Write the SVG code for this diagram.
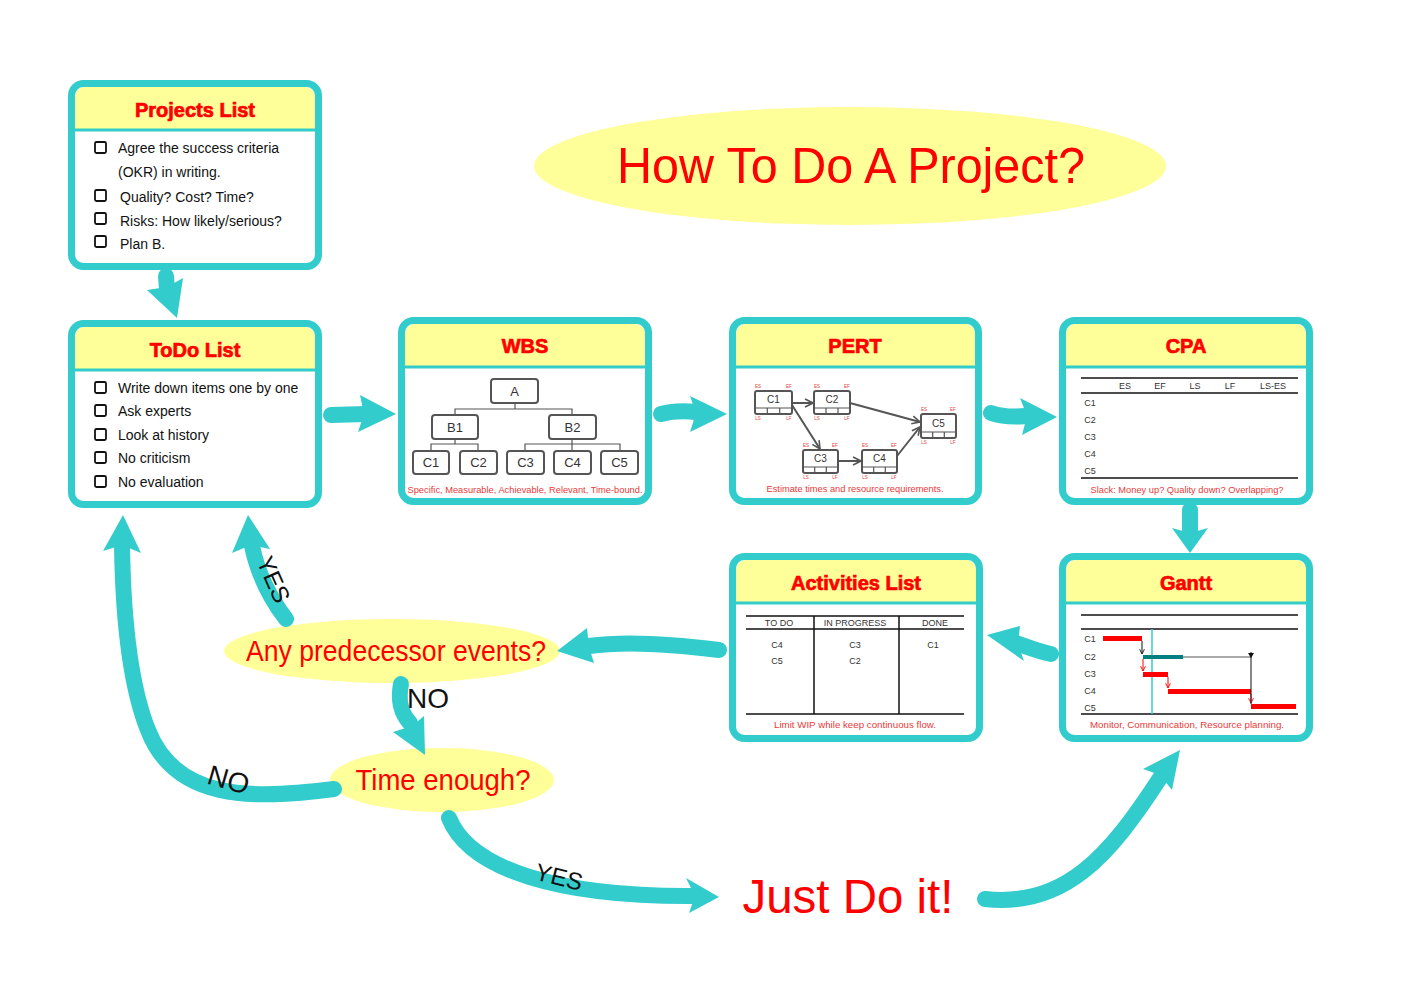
<svg xmlns="http://www.w3.org/2000/svg" width="1403" height="992" viewBox="0 0 1403 992">
<style>
.frame{fill:none;stroke:#33CCCC;stroke-width:7}
.bg{fill:#FFFFFF}
.hdr{fill:#FFFF99}
.hl{stroke:#33CCCC;stroke-width:3}
.title{font-family:"Liberation Sans",Arial,sans-serif;font-weight:bold;font-size:20px;fill:#FF0000;stroke:#FF0000;stroke-width:0.7;text-anchor:middle}
.body{font-family:"Liberation Sans",Arial,sans-serif;font-size:14px;fill:#111}
.cb{fill:none;stroke:#111;stroke-width:1.8}
.cap{font-family:"Liberation Sans",Arial,sans-serif;font-size:9px;fill:#E83A3A;text-anchor:middle}
.sm{font-family:"Liberation Sans",Arial,sans-serif;font-size:9px;fill:#333;text-anchor:middle}
.wb{fill:#fff;stroke:#555;stroke-width:2}
.wt{font-family:"Liberation Sans",Arial,sans-serif;font-size:13px;fill:#333;text-anchor:middle}
.wl{fill:none;stroke:#555;stroke-width:1.2}
.pb{fill:#fff;stroke:#555;stroke-width:2}
.pl{fill:none;stroke:#555;stroke-width:1.2}
.pt{font-family:"Liberation Sans",Arial,sans-serif;font-size:10px;fill:#333;text-anchor:middle}
.tiny{font-family:"Liberation Sans",Arial,sans-serif;font-size:4.5px;fill:#E83A3A;text-anchor:middle}
.pa{fill:none;stroke:#555;stroke-width:2}
.tl{stroke:#111;stroke-width:1.5}
.shaft{fill:none;stroke:#33CCCC;stroke-width:16;stroke-linecap:round}
.head{fill:#33CCCC}
.big{font-family:"Liberation Sans",Arial,sans-serif;fill:#FF0000;text-anchor:middle}
.lbl{font-family:"Liberation Sans",Arial,sans-serif;fill:#111;text-anchor:middle}
</style>
<defs>
<marker id="pm" viewBox="0 0 10 10" refX="9" refY="5" markerWidth="5" markerHeight="5" orient="auto"><path d="M1,1 L9,5 L1,9" fill="none" stroke="#555" stroke-width="1.6"/></marker>
<marker id="gk" viewBox="0 0 10 10" refX="9" refY="5" markerWidth="6" markerHeight="6" orient="auto"><path d="M1,1 L9,5 L1,9" fill="none" stroke="#111" stroke-width="1.5"/></marker>
<marker id="gr" viewBox="0 0 10 10" refX="9" refY="5" markerWidth="6" markerHeight="6" orient="auto"><path d="M1,1 L9,5 L1,9" fill="none" stroke="#FF0000" stroke-width="1.5"/></marker>
</defs>

<g id="title">
<ellipse cx="850" cy="166" rx="316" ry="59" fill="#FFFF99"/>
<text class="big" x="851" y="183" font-size="50" textLength="468" lengthAdjust="spacingAndGlyphs">How To Do A Project?</text>
</g>

<g id="projects-list">
<rect class="bg" x="71.5" y="83.5" width="247" height="183" rx="12"/>
<path class="hdr" d="M75 129 V97 A10 10 0 0 1 85 87 H305 A10 10 0 0 1 315 97 V129 Z"/>
<line class="hl" x1="72" y1="130" x2="318" y2="130"/>
<rect class="frame" x="71.5" y="83.5" width="247" height="183" rx="12"/>
<text class="title" x="195" y="117">Projects List</text>
<rect class="cb" x="95" y="142" width="11" height="11" rx="1.5"/>
<text class="body" x="118" y="153">Agree the success criteria</text>
<text class="body" x="118" y="177">(OKR) in writing.</text>
<rect class="cb" x="95" y="190" width="11" height="11" rx="1.5"/>
<text class="body" x="120" y="202">Quality? Cost? Time?</text>
<rect class="cb" x="95" y="213" width="11" height="11" rx="1.5"/>
<text class="body" x="120" y="226">Risks: How likely/serious?</text>
<rect class="cb" x="95" y="236" width="11" height="11" rx="1.5"/>
<text class="body" x="120" y="249">Plan B.</text>
</g>

<g id="todo-list">
<rect class="bg" x="71.5" y="323.5" width="247" height="181" rx="12"/>
<path class="hdr" d="M75 369 V337 A10 10 0 0 1 85 327 H305 A10 10 0 0 1 315 337 V369 Z"/>
<line class="hl" x1="72" y1="370" x2="318" y2="370"/>
<rect class="frame" x="71.5" y="323.5" width="247" height="181" rx="12"/>
<text class="title" x="195" y="357">ToDo List</text>
<rect class="cb" x="95" y="382" width="11" height="11" rx="1.5"/>
<text class="body" x="118" y="393">Write down items one by one</text>
<rect class="cb" x="95" y="405" width="11" height="11" rx="1.5"/>
<text class="body" x="118" y="416">Ask experts</text>
<rect class="cb" x="95" y="429" width="11" height="11" rx="1.5"/>
<text class="body" x="118" y="440">Look at history</text>
<rect class="cb" x="95" y="452" width="11" height="11" rx="1.5"/>
<text class="body" x="118" y="463">No criticism</text>
<rect class="cb" x="95" y="476" width="11" height="11" rx="1.5"/>
<text class="body" x="118" y="487">No evaluation</text>
</g>

<g id="wbs">
<rect class="bg" x="401.5" y="320.5" width="247" height="181" rx="12"/>
<path class="hdr" d="M405 366 V334 A10 10 0 0 1 415 324 H635 A10 10 0 0 1 645 334 V366 Z"/>
<line class="hl" x1="402" y1="367" x2="648" y2="367"/>
<rect class="frame" x="401.5" y="320.5" width="247" height="181" rx="12"/>
<text class="title" x="525" y="353">WBS</text>
<path class="wl" d="M515 403 V409 M455 415 V409 H572 V415 M455 439 V444 M431 450 V444 H478 V450 M572 439 V444 M525 450 V444 H620 V450 M572 444 V450"/>
<rect class="wb" x="491" y="379" width="47" height="24" rx="3"/>
<text class="wt" x="514.5" y="396">A</text>
<rect class="wb" x="432" y="415" width="46" height="24" rx="3"/>
<text class="wt" x="455" y="432">B1</text>
<rect class="wb" x="549" y="415" width="47" height="24" rx="3"/>
<text class="wt" x="572.5" y="432">B2</text>
<rect class="wb" x="413" y="451" width="36" height="23" rx="3"/>
<text class="wt" x="431" y="467">C1</text>
<rect class="wb" x="460" y="451" width="37" height="23" rx="3"/>
<text class="wt" x="478.5" y="467">C2</text>
<rect class="wb" x="507" y="451" width="37" height="23" rx="3"/>
<text class="wt" x="525.5" y="467">C3</text>
<rect class="wb" x="554" y="451" width="37" height="23" rx="3"/>
<text class="wt" x="572.5" y="467">C4</text>
<rect class="wb" x="601" y="451" width="37" height="23" rx="3"/>
<text class="wt" x="619.5" y="467">C5</text>
<text class="cap" x="525" y="493" textLength="235" lengthAdjust="spacingAndGlyphs">Specific, Measurable, Achievable, Relevant, Time-bound.</text>
</g>

<g id="pert">
<rect class="bg" x="732.5" y="320.5" width="246" height="181" rx="12"/>
<path class="hdr" d="M736 366 V334 A10 10 0 0 1 746 324 H965 A10 10 0 0 1 975 334 V366 Z"/>
<line class="hl" x1="733" y1="367" x2="978" y2="367"/>
<rect class="frame" x="732.5" y="320.5" width="246" height="181" rx="12"/>
<text class="title" x="855" y="353">PERT</text>
<line class="pa" x1="792" y1="403" x2="813" y2="403" marker-end="url(#pm)"/>
<line class="pa" x1="850" y1="403" x2="920" y2="422" marker-end="url(#pm)"/>
<line class="pa" x1="792" y1="405" x2="820" y2="449" marker-end="url(#pm)"/>
<line class="pa" x1="838" y1="461" x2="861" y2="461" marker-end="url(#pm)"/>
<line class="pa" x1="897" y1="456" x2="920" y2="427" marker-end="url(#pm)"/>
<g>
<rect class="pb" x="755" y="391" width="37" height="23" rx="2"/>
<path class="pl" d="M755 408 H792 M767.3 408 V414 M779.7 408 V414"/>
<text class="pt" x="773.5" y="403">C1</text>
<text class="tiny" x="758" y="388">ES</text><text class="tiny" x="789" y="388">EF</text>
<text class="tiny" x="758" y="420">LS</text><text class="tiny" x="789" y="420">LF</text>
</g>
<g>
<rect class="pb" x="814" y="391" width="36" height="23" rx="2"/>
<path class="pl" d="M814 408 H850 M826 408 V414 M838 408 V414"/>
<text class="pt" x="832" y="403">C2</text>
<text class="tiny" x="817" y="388">ES</text><text class="tiny" x="847" y="388">EF</text>
<text class="tiny" x="817" y="420">LS</text><text class="tiny" x="847" y="420">LF</text>
</g>
<g>
<rect class="pb" x="921" y="414" width="35" height="24" rx="2"/>
<path class="pl" d="M921 432 H956 M932.7 432 V438 M944.3 432 V438"/>
<text class="pt" x="938.5" y="427">C5</text>
<text class="tiny" x="924" y="411">ES</text><text class="tiny" x="953" y="411">EF</text>
<text class="tiny" x="924" y="444">LS</text><text class="tiny" x="953" y="444">LF</text>
</g>
<g>
<rect class="pb" x="803" y="450" width="35" height="23" rx="2"/>
<path class="pl" d="M803 467 H838 M814.7 467 V473 M826.3 467 V473"/>
<text class="pt" x="820.5" y="462">C3</text>
<text class="tiny" x="806" y="447">ES</text><text class="tiny" x="835" y="447">EF</text>
<text class="tiny" x="806" y="479">LS</text><text class="tiny" x="835" y="479">LF</text>
</g>
<g>
<rect class="pb" x="862" y="450" width="35" height="23" rx="2"/>
<path class="pl" d="M862 467 H897 M873.7 467 V473 M885.3 467 V473"/>
<text class="pt" x="879.5" y="462">C4</text>
<text class="tiny" x="865" y="447">ES</text><text class="tiny" x="894" y="447">EF</text>
<text class="tiny" x="865" y="479">LS</text><text class="tiny" x="894" y="479">LF</text>
</g>
<text class="cap" x="855" y="492" textLength="177" lengthAdjust="spacingAndGlyphs">Estimate times and resource requirements.</text>
</g>

<g id="cpa">
<rect class="bg" x="1062.5" y="320.5" width="247" height="181" rx="12"/>
<path class="hdr" d="M1066 366 V334 A10 10 0 0 1 1076 324 H1296 A10 10 0 0 1 1306 334 V366 Z"/>
<line class="hl" x1="1063" y1="367" x2="1309" y2="367"/>
<rect class="frame" x="1062.5" y="320.5" width="247" height="181" rx="12"/>
<text class="title" x="1186" y="353">CPA</text>
<line class="tl" x1="1081" y1="378" x2="1298" y2="378"/>
<line class="tl" x1="1081" y1="393" x2="1298" y2="393"/>
<line class="tl" x1="1081" y1="478" x2="1298" y2="478"/>
<text class="sm" x="1125" y="389">ES</text>
<text class="sm" x="1160" y="389">EF</text>
<text class="sm" x="1195" y="389">LS</text>
<text class="sm" x="1230" y="389">LF</text>
<text class="sm" x="1273" y="389">LS-ES</text>
<text class="sm" x="1090" y="406">C1</text>
<text class="sm" x="1090" y="423">C2</text>
<text class="sm" x="1090" y="440">C3</text>
<text class="sm" x="1090" y="457">C4</text>
<text class="sm" x="1090" y="474">C5</text>
<text class="cap" x="1187" y="493" textLength="193" lengthAdjust="spacingAndGlyphs">Slack: Money up? Quality down? Overlapping?</text>
</g>

<g id="activities-list">
<rect class="bg" x="732.5" y="556.5" width="247" height="182" rx="12"/>
<path class="hdr" d="M736 602 V570 A10 10 0 0 1 746 560 H966 A10 10 0 0 1 976 570 V602 Z"/>
<line class="hl" x1="733" y1="603" x2="979" y2="603"/>
<rect class="frame" x="732.5" y="556.5" width="247" height="182" rx="12"/>
<text class="title" x="856" y="590">Activities List</text>
<line class="tl" x1="746" y1="616" x2="964" y2="616"/>
<line class="tl" x1="746" y1="629" x2="964" y2="629"/>
<line class="tl" x1="746" y1="714" x2="964" y2="714"/>
<line class="tl" x1="814" y1="616" x2="814" y2="714"/>
<line class="tl" x1="899" y1="616" x2="899" y2="714"/>
<text class="sm" x="779" y="626">TO DO</text>
<text class="sm" x="855" y="626">IN PROGRESS</text>
<text class="sm" x="935" y="626">DONE</text>
<text class="sm" x="777" y="648">C4</text>
<text class="sm" x="777" y="664">C5</text>
<text class="sm" x="855" y="648">C3</text>
<text class="sm" x="855" y="664">C2</text>
<text class="sm" x="933" y="648">C1</text>
<text class="cap" x="855" y="728" textLength="162" lengthAdjust="spacingAndGlyphs">Limit WIP while keep continuous flow.</text>
</g>

<g id="gantt">
<rect class="bg" x="1062.5" y="556.5" width="247" height="182" rx="12"/>
<path class="hdr" d="M1066 602 V570 A10 10 0 0 1 1076 560 H1296 A10 10 0 0 1 1306 570 V602 Z"/>
<line class="hl" x1="1063" y1="603" x2="1309" y2="603"/>
<rect class="frame" x="1062.5" y="556.5" width="247" height="182" rx="12"/>
<text class="title" x="1186" y="590">Gantt</text>
<line class="tl" x1="1081" y1="615" x2="1298" y2="615"/>
<line class="tl" x1="1081" y1="629" x2="1298" y2="629"/>
<line class="tl" x1="1081" y1="714" x2="1298" y2="714"/>
<text class="sm" x="1090" y="642">C1</text>
<text class="sm" x="1090" y="660">C2</text>
<text class="sm" x="1090" y="677">C3</text>
<text class="sm" x="1090" y="694">C4</text>
<text class="sm" x="1090" y="711">C5</text>
<line x1="1152" y1="629" x2="1152" y2="714" stroke="#33CCCC" stroke-width="1.5"/>
<rect x="1103" y="636" width="39" height="5" fill="#FF0000"/>
<rect x="1143" y="655" width="40" height="4" fill="#008080"/>
<line x1="1183" y1="657" x2="1251" y2="657" stroke="#555" stroke-width="1"/>
<rect x="1143" y="672" width="25" height="5" fill="#FF0000"/>
<rect x="1168" y="689" width="83" height="5" fill="#FF0000"/>
<rect x="1251" y="704" width="45" height="5" fill="#FF0000"/>
<line x1="1142" y1="641" x2="1142" y2="654" stroke="#111" stroke-width="1" marker-end="url(#gk)"/>
<line x1="1143" y1="659" x2="1143" y2="671" stroke="#FF0000" stroke-width="1" marker-end="url(#gr)"/>
<line x1="1168" y1="677" x2="1168" y2="688" stroke="#FF0000" stroke-width="1" marker-end="url(#gr)"/>
<line x1="1251" y1="694" x2="1251" y2="703" stroke="#FF0000" stroke-width="1" marker-end="url(#gr)"/>
<line x1="1251" y1="652" x2="1251" y2="704" stroke="#111" stroke-width="1"/>
<path d="M1248 653 L1254 653 L1251 658 Z" fill="#111"/>
<text class="cap" x="1187" y="728" textLength="194" lengthAdjust="spacingAndGlyphs">Monitor, Communication, Resource planning.</text>
</g>

<g id="decision-predecessor">
<ellipse cx="392" cy="651" rx="168" ry="32" fill="#FFFF99"/>
<text class="big" x="396" y="661" font-size="29" textLength="300" lengthAdjust="spacingAndGlyphs">Any predecessor events?</text>
</g>

<g id="decision-time">
<ellipse cx="442" cy="780" rx="112" ry="32" fill="#FFFF99"/>
<text class="big" x="443" y="790" font-size="29" textLength="175" lengthAdjust="spacingAndGlyphs">Time enough?</text>
</g>

<g id="just-do-it">
<text class="big" x="848" y="913" font-size="48" textLength="211" lengthAdjust="spacingAndGlyphs">Just Do it!</text>
</g>

<g id="connectors">
<path class="shaft" d="M166 276 L167 290"/>
<polygon class="head" points="147,290 167,287 183,278 177,318"/>
<path class="shaft" d="M331 415 L366 414"/>
<polygon class="head" points="360,395 396,414 358,432 364,414"/>
<path class="shaft" d="M661 414 Q676 410 696 412"/>
<polygon class="head" points="690,396 727,414 690,432 696,413"/>
<path class="shaft" d="M991 413 Q1006 418 1026 416"/>
<polygon class="head" points="1020,398 1057,417 1022,435 1027,416"/>
<path class="shaft" d="M1190 510 L1190 534"/>
<polygon class="head" points="1172,528 1190,533 1208,528 1190,553"/>
<path class="shaft" d="M1051 654 C1040 652 1030 648 1016 643"/>
<polygon class="head" points="1020,626 1018,644 1024,661 987,635"/>
<path class="shaft" d="M719 650 C680 645 630 640 589 646"/>
<polygon class="head" points="587,628 589,647 594,663 557,651"/>
<path class="shaft" d="M401 684 C398 700 400 712 410 723"/>
<polygon class="head" points="393,732 412,726 424,716 425,755"/>
<path class="shaft" d="M334 789 C250 800 175 800 148 730 C128 680 123 610 122 546"/>
<polygon class="head" points="103,551 122,545 141,553 123,515"/>
<path class="shaft" d="M286 619 C270 598 258 575 252 546"/>
<polygon class="head" points="232,553 251,545 270,549 248,515"/>
<path class="shaft" d="M449 818 C470 870 560 897 694 896"/>
<polygon class="head" points="686,878 695,896 689,913 719,897"/>
<path class="shaft" d="M985 899 C1065 908 1110 855 1160 778"/>
<polygon class="head" points="1143,769 1160,775 1172,790 1180,750"/>
<text class="lbl" x="428" y="708" font-size="28">NO</text>
<text class="lbl" font-size="28" transform="translate(226,789) rotate(16)">NO</text>
<text class="lbl" font-size="24" transform="translate(266,583) rotate(66)">YES</text>
<text class="lbl" font-size="24" transform="translate(557,885) rotate(14)">YES</text>
</g>
</svg>
